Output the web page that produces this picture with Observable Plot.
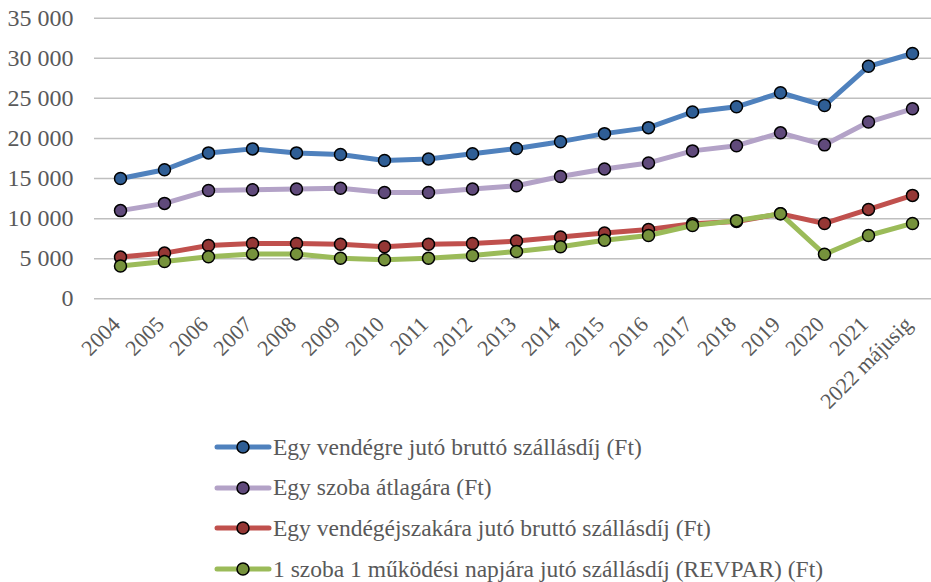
<!DOCTYPE html>
<html>
<head>
<meta charset="utf-8">
<script src="https://cdn.jsdelivr.net/npm/d3@7"></script>
<script src="https://cdn.jsdelivr.net/npm/@observablehq/plot@0.6"></script>
<style>
  body { margin: 0; background: #fff; font-family: "Liberation Serif", "Times New Roman", serif; }
  #wrap { position: relative; width: 931px; height: 582px; }
  #legend { position: absolute; left: 214px; top: 427px; color: #595959; font-size: 23.5px; }
  .row { height: 40.6px; display: flex; align-items: center; }
  .row svg { margin-right: 1px; }
  svg text { font-family: "Liberation Serif", "Times New Roman", serif; }
</style>
</head>
<body>
<div id="wrap"><div id="chart"></div><div id="legend"></div></div>
<script>
const categories = ["2004","2005","2006","2007","2008","2009","2010","2011","2012","2013","2014","2015","2016","2017","2018","2019","2020","2021","2022 májusig"];
const seriesNames = [
  "Egy vendégre jutó bruttó szállásdíj (Ft)",
  "Egy szoba átlagára (Ft)",
  "Egy vendégéjszakára jutó bruttó szállásdíj (Ft)",
  "1 szoba 1 működési napjára jutó szállásdíj (REVPAR) (Ft)"
];
const perGuest = [15000,16100,18200,18700,18200,18000,17250,17450,18100,18750,19600,20600,21350,23300,23950,25700,24100,29000,30600];
const roomAvg = [11000,11900,13500,13600,13700,13800,13250,13250,13700,14100,15250,16200,16950,18450,19100,20700,19200,22050,23700];
const perNight = [5200,5700,6650,6900,6900,6800,6500,6800,6900,7200,7700,8200,8650,9350,9650,10600,9400,11150,12900];
const revpar = [4100,4650,5250,5600,5600,5050,4870,5050,5400,5900,6500,7300,7900,9150,9750,10600,5550,7900,9400];
const yTicks = [0,5000,10000,15000,20000,25000,30000,35000];
const lineColors = ["#4f81bd","#b3a2c7","#c0504d","#9bbb59"];
const markerColors = ["#2f5e95","#604a7b","#953735","#76923c"];

const values = [perGuest, roomAvg, perNight, revpar];
const data = [];
values.forEach((arr, s) => arr.forEach((v, i) => data.push({series: seriesNames[s], cat: categories[i], value: v})));

const fmt = v => d3.format(",")(v).replace(/,/g, " ");

const marks = [
  Plot.ruleY(yTicks, {stroke: "#bfbfbf", strokeWidth: 1.5}),
  Plot.axisY({ticks: yTicks, tickSize: 0, tickPadding: 21, tickFormat: fmt, fontSize: 24, fill: "#595959", label: null}),
  Plot.axisX({tickSize: 0, tickPadding: 22, tickRotate: -45, fontSize: 22, fill: "#595959", label: null, dx: -4})
];
seriesNames.forEach((name, s) => {
  const d = data.filter(r => r.series === name);
  marks.push(Plot.line(d, {x: "cat", y: "value", stroke: lineColors[s], strokeWidth: 5, strokeLinejoin: "round", strokeLinecap: "round"}));
  marks.push(Plot.dot(d, {x: "cat", y: "value", r: 6, fill: markerColors[s], stroke: "#000", strokeWidth: 1.5}));
});

const chart = Plot.plot({
  width: 931,
  height: 425,
  marginLeft: 94,
  marginRight: 0,
  marginTop: 17.7,
  marginBottom: 126.7,
  style: {background: "#fff", overflow: "visible"},
  x: {type: "point", domain: categories, range: [116.5, 914.5], padding: 0, label: null},
  y: {domain: [0, 35000], label: null},
  marks
});
document.getElementById("chart").appendChild(chart);

const legend = document.getElementById("legend");
seriesNames.forEach((name, s) => {
  const row = document.createElement("div");
  row.className = "row";
  row.innerHTML = `<svg width="58" height="16"><line x1="3" y1="8" x2="55" y2="8" stroke="${lineColors[s]}" stroke-width="5" stroke-linecap="round"/><circle cx="29" cy="8" r="6" fill="${markerColors[s]}" stroke="#000" stroke-width="1.5"/></svg><span>${name}</span>`;
  legend.appendChild(row);
});
</script>
</body>
</html>
